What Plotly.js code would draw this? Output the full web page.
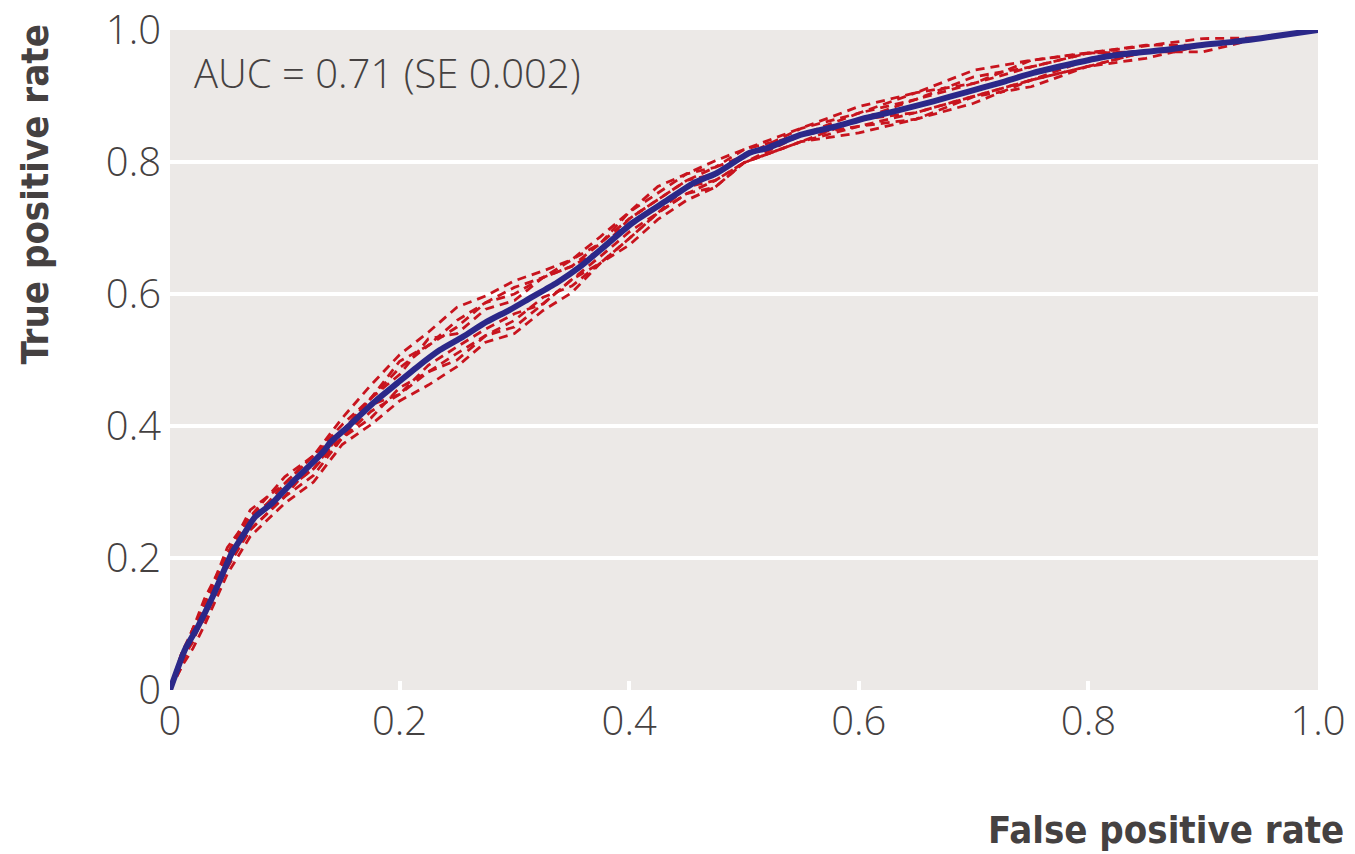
<!DOCTYPE html>
<html>
<head>
<meta charset="utf-8">
<script src="https://cdn.plot.ly/plotly-3.0.1.min.js"></script>
<style>html,body{margin:0;padding:0;background:#fff;}#chart{width:1355px;height:854px;}</style>
</head>
<body>
<div id="chart"></div>
<script>
// Mean ROC curve (blue)
const meanFPR = [0, 0.013, 0.024, 0.037, 0.046, 0.054, 0.065, 0.074, 0.089, 0.106, 0.124, 0.135, 0.139, 0.157, 0.177, 0.198, 0.215, 0.235, 0.255, 0.276, 0.296, 0.314, 0.337, 0.357, 0.375, 0.403, 0.433, 0.456, 0.476, 0.505, 0.520, 0.549, 0.578, 0.607, 0.636, 0.665, 0.694, 0.723, 0.752, 0.781, 0.810, 0.839, 0.868, 0.897, 0.926, 0.956, 1.0];
const meanTPR = [0, 0.061, 0.095, 0.141, 0.177, 0.208, 0.238, 0.262, 0.283, 0.314, 0.344, 0.364, 0.374, 0.402, 0.435, 0.465, 0.489, 0.515, 0.535, 0.558, 0.576, 0.594, 0.617, 0.641, 0.667, 0.708, 0.742, 0.768, 0.783, 0.814, 0.821, 0.841, 0.853, 0.867, 0.879, 0.892, 0.906, 0.920, 0.935, 0.947, 0.958, 0.965, 0.970, 0.977, 0.982, 0.989, 1.0];

// Individual ROC curves (red dashed), shared FPR grid
const foldFPR = [0, 0.01, 0.02, 0.03, 0.05, 0.07, 0.1, 0.125, 0.15, 0.175, 0.2, 0.225, 0.25, 0.275, 0.3, 0.325, 0.35, 0.375, 0.4, 0.425, 0.45, 0.475, 0.5, 0.55, 0.6, 0.65, 0.7, 0.75, 0.8, 0.85, 0.9, 0.95, 1.0];
const fold1 = [0, 0.055, 0.093, 0.138, 0.206, 0.273, 0.313, 0.355, 0.412, 0.462, 0.508, 0.542, 0.580, 0.597, 0.620, 0.635, 0.652, 0.687, 0.724, 0.763, 0.782, 0.802, 0.819, 0.851, 0.884, 0.905, 0.939, 0.954, 0.965, 0.977, 0.977, 0.988, 1.0];
const fold2 = [0, 0.035, 0.063, 0.098, 0.176, 0.233, 0.283, 0.315, 0.372, 0.402, 0.438, 0.462, 0.490, 0.527, 0.540, 0.575, 0.602, 0.647, 0.674, 0.713, 0.742, 0.762, 0.799, 0.831, 0.844, 0.865, 0.889, 0.924, 0.945, 0.967, 0.967, 0.988, 1.0];
const fold3 = [0, 0.045, 0.093, 0.128, 0.216, 0.263, 0.303, 0.335, 0.392, 0.442, 0.498, 0.522, 0.560, 0.587, 0.600, 0.625, 0.642, 0.667, 0.714, 0.743, 0.772, 0.782, 0.809, 0.841, 0.874, 0.895, 0.929, 0.944, 0.965, 0.967, 0.977, 0.988, 1.0];
const fold4 = [0, 0.045, 0.073, 0.118, 0.186, 0.243, 0.293, 0.325, 0.382, 0.412, 0.458, 0.482, 0.500, 0.537, 0.550, 0.585, 0.622, 0.657, 0.694, 0.723, 0.752, 0.772, 0.799, 0.841, 0.854, 0.875, 0.899, 0.924, 0.955, 0.967, 0.977, 0.988, 1.0];
const fold5 = [0, 0.055, 0.083, 0.128, 0.206, 0.263, 0.323, 0.355, 0.402, 0.442, 0.488, 0.522, 0.550, 0.587, 0.610, 0.625, 0.642, 0.677, 0.714, 0.743, 0.772, 0.792, 0.809, 0.851, 0.874, 0.905, 0.919, 0.944, 0.965, 0.967, 0.977, 0.988, 1.0];
const fold6 = [0, 0.035, 0.083, 0.108, 0.196, 0.243, 0.293, 0.345, 0.382, 0.422, 0.448, 0.482, 0.510, 0.537, 0.560, 0.595, 0.612, 0.647, 0.684, 0.723, 0.752, 0.762, 0.799, 0.831, 0.854, 0.865, 0.899, 0.914, 0.945, 0.967, 0.977, 0.988, 1.0];
const fold7 = [0, 0.045, 0.093, 0.118, 0.206, 0.253, 0.313, 0.355, 0.392, 0.442, 0.478, 0.532, 0.540, 0.577, 0.590, 0.625, 0.652, 0.677, 0.724, 0.753, 0.782, 0.792, 0.819, 0.841, 0.864, 0.895, 0.919, 0.954, 0.965, 0.977, 0.987, 0.988, 1.0];
const fold8 = [0, 0.045, 0.083, 0.108, 0.186, 0.253, 0.303, 0.335, 0.382, 0.432, 0.448, 0.492, 0.520, 0.547, 0.570, 0.585, 0.622, 0.647, 0.684, 0.723, 0.762, 0.772, 0.799, 0.831, 0.864, 0.875, 0.899, 0.924, 0.945, 0.957, 0.977, 0.988, 1.0];
const folds = [fold1, fold2, fold3, fold4, fold5, fold6, fold7, fold8];

const xTickVals = [0, 0.2, 0.4, 0.6, 0.8, 1.0];
const xTickText = ["0", "0.2", "0.4", "0.6", "0.8", "1.0"];
const yTickVals = [0, 0.2, 0.4, 0.6, 0.8, 1.0];
const yTickText = ["0", "0.2", "0.4", "0.6", "0.8", "1.0"];

const aucText = "AUC = 0.71 (SE 0.002)";
const xTitle = "False positive rate";
const yTitle = "True positive rate";

const textColor = "#454141";
const tickFont = {family: "'Open Sans', 'Noto Sans', sans-serif", size: 40, color: textColor, weight: 300};
const titleFont = {family: "'Liberation Sans Narrow', 'DejaVu Sans Condensed', 'Roboto', sans-serif", size: 38, color: textColor, weight: 700};

const traces = folds.map(f => ({
  x: foldFPR, y: f, type: "scatter", mode: "lines",
  line: {color: "#c8141e", width: 2.8, dash: "9px,6px", shape: "linear"},
  hoverinfo: "skip", showlegend: false
}));
traces.push({
  x: meanFPR, y: meanTPR, type: "scatter", mode: "lines",
  line: {color: "#2b2889", width: 6, shape: "spline", smoothing: 0.6},
  showlegend: false
});

const layout = {
  width: 1355, height: 854,
  margin: {l: 170, r: 37, t: 30, b: 164},
  paper_bgcolor: "#ffffff",
  plot_bgcolor: "#ece9e7",
  showlegend: false,
  xaxis: {
    range: [0, 1.0], tickvals: xTickVals, ticktext: xTickText,
    showgrid: false, zeroline: false, showline: false,
    ticks: "inside", ticklen: 9, tickwidth: 4, tickcolor: "#ffffff",
    tickfont: tickFont, ticklabelstandoff: 4, fixedrange: true
  },
  yaxis: {
    range: [0, 1.0], tickvals: yTickVals, ticktext: yTickText,
    showgrid: true, gridcolor: "#ffffff", gridwidth: 4, zeroline: false, showline: false,
    ticks: "", tickfont: tickFont, ticklabelstandoff: 8, fixedrange: true
  },
  annotations: [
    {text: aucText, xref: "paper", yref: "paper", x: 0.019, y: 0.935, xanchor: "left", yanchor: "middle",
     showarrow: false, font: {family: "'Open Sans', 'Noto Sans', sans-serif", size: 40, color: textColor, weight: 300}},
    {text: yTitle, xref: "paper", yref: "paper", x: -0.118, y: 0.75, xanchor: "center", yanchor: "middle",
     textangle: -90, showarrow: false, font: titleFont},
    {text: xTitle, xref: "paper", yref: "paper", x: 1.024, y: -0.212, xanchor: "right", yanchor: "middle",
     showarrow: false, font: titleFont}
  ]
};

Plotly.newPlot("chart", traces, layout, {displayModeBar: false, staticPlot: true});
</script>
</body>
</html>
